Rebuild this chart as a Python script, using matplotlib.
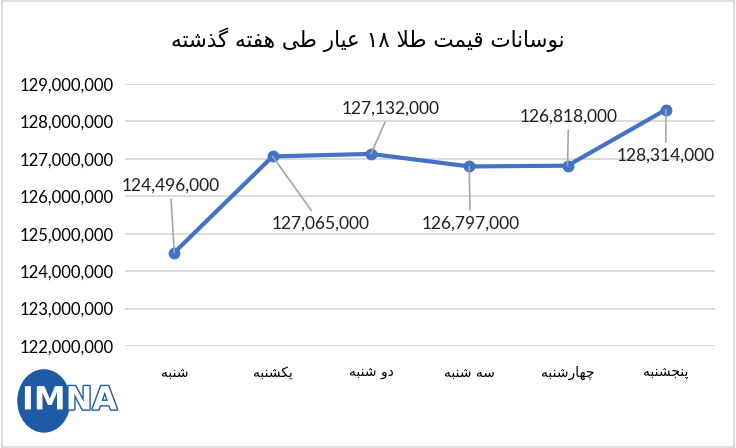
import matplotlib
matplotlib.use("Agg")
import matplotlib.pyplot as plt
from matplotlib.patches import Ellipse, Rectangle
from matplotlib.ticker import FuncFormatter
import matplotlib.patheffects as pe

title = "نوسانات قیمت طلا ۱۸ عیار طی هفته گذشته"
days = ["شنبه", "یکشنبه", "دو شنبه", "سه شنبه", "چهارشنبه", "پنجشنبه"]
prices = [124496000, 127065000, 127132000, 126797000, 126818000, 128314000]
# label offsets in pixels from each point
label_offsets = [(-4, 67), (48, -67), (20, 45), (1, -57), (1, 49), (0, -46)]

# simple persian shaping (no raqm in matplotlib)
FORMS = {
    "ا": ("\uFE8D", "\uFE8E", None, None),
    "ب": ("\uFE8F", "\uFE90", "\uFE91", "\uFE92"),
    "پ": ("\uFB56", "\uFB57", "\uFB58", "\uFB59"),
    "ت": ("\uFE95", "\uFE96", "\uFE97", "\uFE98"),
    "ج": ("\uFE9D", "\uFE9E", "\uFE9F", "\uFEA0"),
    "چ": ("\uFB7A", "\uFB7B", "\uFB7C", "\uFB7D"),
    "د": ("\uFEA9", "\uFEAA", None, None),
    "ذ": ("\uFEAB", "\uFEAC", None, None),
    "ر": ("\uFEAD", "\uFEAE", None, None),
    "س": ("\uFEB1", "\uFEB2", "\uFEB3", "\uFEB4"),
    "ش": ("\uFEB5", "\uFEB6", "\uFEB7", "\uFEB8"),
    "ط": ("\uFEC1", "\uFEC2", "\uFEC3", "\uFEC4"),
    "ع": ("\uFEC9", "\uFECA", "\uFECB", "\uFECC"),
    "ف": ("\uFED1", "\uFED2", "\uFED3", "\uFED4"),
    "ق": ("\uFED5", "\uFED6", "\uFED7", "\uFED8"),
    "ک": ("\uFB8E", "\uFB8F", "\uFB90", "\uFB91"),
    "گ": ("\uFB92", "\uFB93", "\uFB94", "\uFB95"),
    "ل": ("\uFEDD", "\uFEDE", "\uFEDF", "\uFEE0"),
    "م": ("\uFEE1", "\uFEE2", "\uFEE3", "\uFEE4"),
    "ن": ("\uFEE5", "\uFEE6", "\uFEE7", "\uFEE8"),
    "ه": ("\uFEE9", "\uFEEA", "\uFEEB", "\uFEEC"),
    "و": ("\uFEED", "\uFEEE", None, None),
    "ی": ("\uFBFC", "\uFBFD", "\uFBFE", "\uFBFF"),
    "لا": ("\uFEFB", "\uFEFC", None, None),
}


def joins_next(ch):
    return ch in FORMS and FORMS[ch][2] is not None


def shape(text):
    # merge lam-alef
    chars = []
    i = 0
    while i < len(text):
        if text[i] == "ل" and i + 1 < len(text) and text[i + 1] == "ا":
            chars.append("لا")
            i += 2
        else:
            chars.append(text[i])
            i += 1
    out = []
    for i, ch in enumerate(chars):
        if ch not in FORMS:
            out.append(ch)
            continue
        prev_j = i > 0 and joins_next(chars[i - 1])
        next_j = i + 1 < len(chars) and chars[i + 1] in FORMS
        iso, fin, ini, med = FORMS[ch]
        can_next = ini is not None and next_j
        if prev_j and can_next:
            out.append(med)
        elif prev_j:
            out.append(fin)
        elif can_next:
            out.append(ini)
        else:
            out.append(iso)
    # visual order: reverse, but keep digit runs left-to-right
    s = "".join(out)
    words = []
    buf = ""
    for c in s:
        if c.isdigit():
            buf += c
        else:
            if buf:
                words.append(buf)
                buf = ""
            words.append(c)
    if buf:
        words.append(buf)
    return "".join(reversed(words))


fig = plt.figure(figsize=(7.36, 4.48), dpi=100)
ax = fig.add_axes([0.170, 0.2277, 0.8015, 0.5848])

x = list(range(len(days)))
ax.plot(x, prices, color="#4472C4", linewidth=3, marker="o", markersize=7.5,
        solid_capstyle="round", zorder=3)

ax.set_xlim(-0.5, len(days) - 0.5)
ax.set_ylim(122000000, 129000000)
ax.set_yticks(range(122000000, 129000001, 1000000))
ax.yaxis.set_major_formatter(FuncFormatter(lambda v, p: f"{int(v):,}"))
ax.set_xticks(x)
ax.set_xticklabels([shape(d) for d in days], fontfamily="DejaVu Sans", fontsize=10)
for lab in ax.get_yticklabels():
    lab.set_fontfamily("Lato")
    lab.set_fontsize(12)
ax.tick_params(length=0, pad=8, colors="#000000")
ax.tick_params(axis="x", pad=14)
ax.grid(axis="y", color="#d9d9d9", linewidth=1.3)
ax.set_axisbelow(True)
for s in ax.spines.values():
    s.set_visible(False)

for xi, yi, off in zip(x, prices, label_offsets):
    ax.annotate(f"{yi:,}", (xi, yi), xytext=off, textcoords="offset pixels",
                ha="center", va="center", fontsize=12.5, fontfamily="Lato",
                color="#202020",
                arrowprops=dict(arrowstyle="-", color="#a6a6a6", lw=1.2,
                                shrinkA=2, shrinkB=0))

fig.text(0.5, 0.912, shape(title), ha="center", va="center",
         fontsize=15.5, fontfamily="DejaVu Sans")

# outer border
fig.patches.append(Rectangle((0.003, 0.003), 0.994, 0.994, transform=fig.transFigure,
                             fill=False, edgecolor="#d9d9d9", linewidth=1.2))

# logo
lax = fig.add_axes([0.0, 0.0, 0.16, 0.19])
lax.set_xlim(0, 118)
lax.set_ylim(0, 85)
lax.axis("off")
lax.add_patch(Ellipse((44, 47), 52, 62, color="#1f5aa6"))
lax.text(22, 47, "IMNA", fontsize=23, fontweight="bold", color="white",
         ha="left", va="center", fontfamily="DejaVu Sans",
         path_effects=[pe.withStroke(linewidth=2, foreground="#1f5aa6")])

fig.savefig("out.png", dpi=100)
